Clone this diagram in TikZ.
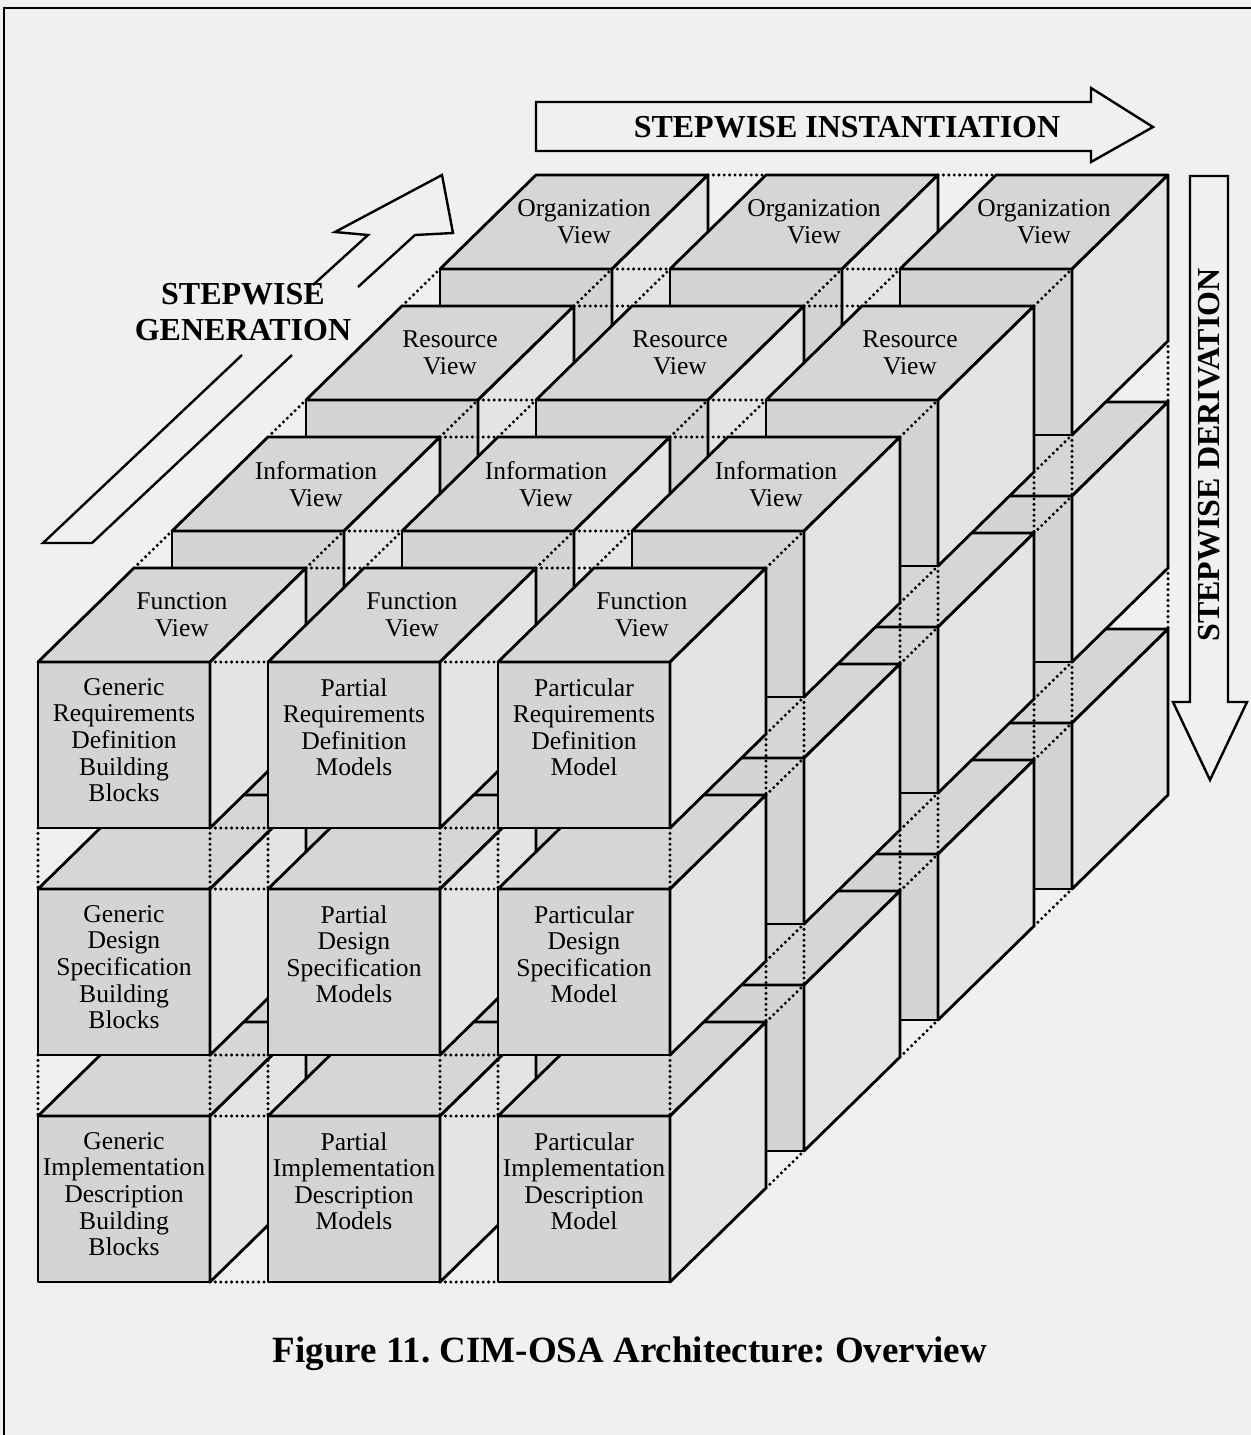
\documentclass[tikz,border=0pt]{standalone}
\usepackage{fontspec}
\setmainfont{Liberation Serif}
\usepackage{xcolor}
\frenchspacing

\definecolor{paper}{gray}{0.94}
\definecolor{frontgray}{gray}{0.83}
\definecolor{topgray}{gray}{0.84}
\definecolor{sidegray}{gray}{0.895}

\tikzset{
  edge/.style={line width=1.4pt, line join=round},
  gap/.style={line width=1.7pt, line cap=round, dash pattern=on 0pt off 2.7pt},
  facetext/.style={align=center, inner sep=0pt, font=\fontsize{12.8}{13.3}\selectfont},
  bigtext/.style={align=center, inner sep=0pt, font=\fontsize{16}{18}\selectfont\bfseries},
  outline/.style={line width=1.2pt, line join=miter},
}

\begin{document}
\begin{tikzpicture}[x=0.5pt,y=-0.5pt]
    \useasboundingbox (0,0) rectangle (1251,1435);
    \fill[paper] (0,0) rectangle (1251,1435);
    \draw[line width=1.2pt] (4,1435) -- (4,8) -- (1251,8);

    % Cubes, back layer first
    \foreach \lay in {3,2,1,0} {
      \foreach \row in {2,1,0} {
        \foreach \col in {0,1,2} {
          \begin{scope}[shift={({38+230*\col+134*\lay},{662+227*\row-131*\lay})}]
            \filldraw[edge,fill=frontgray] (0,0) rectangle (172,166);
            \filldraw[edge,fill=topgray] (0,0) -- (96,-94) -- (268,-94) -- (172,0) -- cycle;
            \filldraw[edge,fill=sidegray] (172,0) -- (268,-94) -- (268,72) -- (172,166) -- cycle;
            \ifnum\col<2
              \foreach \y/\z in {0/0,166/0,0/1,166/1}
                \draw[gap] ({172+96*\z},{\y-94*\z}) -- ({230+96*\z},{\y-94*\z});
            \fi
          \end{scope}
        }
        % Gaps between rows
        \ifnum\row>0
          \foreach \col in {0,1,2}
            \foreach \x/\z in {0/0,172/0,0/1,172/1}
              \draw[gap,shift={({38+230*\col+134*\lay},{662+227*(\row-1)-131*\lay})}]
                ({\x+96*\z},{166-94*\z}) -- ({\x+96*\z},{227-94*\z});
        \fi
      }
      % Gaps between layers
      \ifnum\lay>0
        \foreach \row in {0,1,2}
          \foreach \col in {0,1,2}
            \foreach \x/\y in {0/0,172/0,0/166,172/166}
              \draw[gap,shift={({38+230*\col+134*(\lay-1)},{662+227*\row-131*(\lay-1)})}]
                ({\x+96},{\y-94}) -- ({\x+134},{\y-131});
      \fi
    }

    % View names
    \foreach \lay/\vname in {0/Function,1/Information,2/Resource,3/Organization}
      \foreach \col in {0,1,2}
        \node[facetext] (view-\lay-\col) at ({38+230*\col+134*\lay+144},{662-131*\lay-47}) {\vname\\View};

    % Model names
    \foreach \row/\kind/\stage in {0/Requirements/Definition,1/Design/Specification,2/Implementation/Description}
      \foreach \col/\lvl/\tail in {0/Generic/{Building\\Blocks},1/Partial/Models,2/Particular/Model}
        \node[facetext,anchor=north] (model-\row-\col) at ({38+230*\col+86},{662+227*\row+16})
          {\lvl\\\kind\\\stage\\\tail};

    % Instantiation
    \filldraw[outline,fill=paper] (536,102) -- (1091,102) -- (1091,88) -- (1153,127)
      -- (1091,162) -- (1091,151) -- (536,151) -- cycle;
    \node[bigtext] (inst-label) at (847,127) {STEPWISE INSTANTIATION};

    % Derivation
    \filldraw[outline,fill=paper] (1190,176) -- (1228,176) -- (1228,702) -- (1247,702)
      -- (1210,780) -- (1173,702) -- (1190,702) -- cycle;
    \node[bigtext,rotate=90] (deriv-label) at (1209,455) {STEPWISE DERIVATION};

    % Generation
    \draw[outline] (242,355) -- (43,543) -- (92,543) -- (292,355);
    \draw[outline] (313,285) -- (368,235) -- (335,232) -- (442,175) -- (453,233)
      -- (415,235) -- (358,287);
    \node[bigtext] (gen-label) at (243,312) {STEPWISE\\GENERATION};

    \node[inner sep=0pt,font=\fontsize{18.5}{22}\selectfont\bfseries] (caption) at (630,1354)
      {Figure 11. CIM-OSA Architecture: Overview};
\end{tikzpicture}
\end{document}
